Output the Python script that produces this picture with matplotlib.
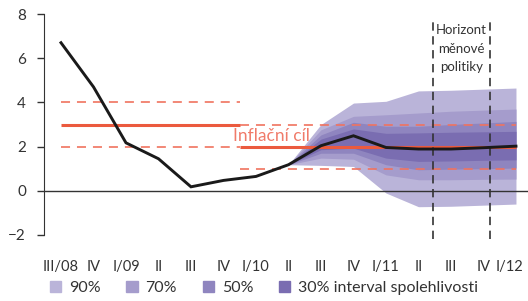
import matplotlib
matplotlib.use('Agg')
import matplotlib.pyplot as plt
import matplotlib.transforms as mtransforms
from matplotlib.patches import Patch

plt.rcParams['font.family'] = ['Lato', 'DejaVu Sans']
plt.rcParams['lines.scale_dashes'] = False

# quarters III/08 .. I/12
labels = ['III/08', 'IV', 'I/09', 'II', 'III', 'IV', 'I/10', 'II', 'III', 'IV',
          'I/11', 'II', 'III', 'IV', 'I/12']
inflation = [6.7, 4.7, 2.17, 1.45, 0.18, 0.47, 0.65, 1.18, 2.04, 2.49,
             1.96, 1.89, 1.89, 1.95, 2.02]

# fan from II/10 to I/12
fan_start = 7
lo90 = [1.18, 1.15, 1.10, -0.10, -0.72, -0.70, -0.65, -0.60]
lo70 = [1.18, 1.48, 1.43, 0.72, 0.50, 0.50, 0.52, 0.53]
lo50 = [1.18, 1.70, 1.70, 1.18, 0.95, 0.98, 1.00, 1.03]
lo30 = [1.18, 1.86, 1.93, 1.48, 1.33, 1.35, 1.38, 1.40]
hi30 = [1.18, 2.34, 2.80, 2.60, 2.62, 2.65, 2.67, 2.69]
hi50 = [1.18, 2.53, 3.10, 2.92, 2.92, 3.00, 3.07, 3.14]
hi70 = [1.18, 2.76, 3.37, 3.44, 3.52, 3.60, 3.65, 3.70]
hi90 = [1.18, 3.00, 3.97, 4.05, 4.52, 4.55, 4.60, 4.65]

# inflation target: (x from, x to, centre, band)
targets = [(0, 5.5, 3, 1), (5.5, 14, 2, 1)]
horizon = [11.45, 13.2]

c90, c70, c50, c30 = '#bab4d9', '#a59ccc', '#8f85bf', '#7a6db1'
red = '#eb5a3e'
dred = '#f0735f'
txt = '#333333'

fig = plt.figure(figsize=(5.28, 3.01), dpi=100)
ax = fig.add_axes([44 / 528, 1 - 235 / 301, 1 - 44 / 528, 221 / 301])

xs = list(range(len(labels)))
fx = xs[fan_start:]

ax.fill_between(fx, lo90, hi90, color=c90, lw=0, zorder=1)
ax.fill_between(fx, lo70, hi70, color=c70, lw=0, zorder=1)
ax.fill_between(fx, lo50, hi50, color=c50, lw=0, zorder=1)
ax.fill_between(fx, lo30, hi30, color=c30, lw=0, zorder=1)

for x0, x1, c, b in targets:
    ax.plot([x0, x1], [c, c], color=red, lw=2.2, zorder=3, solid_capstyle='butt')
    for v in (c - b, c + b):
        ax.plot([x0, x1], [v, v], color=dred, lw=1.2, dashes=(6.5, 5), zorder=3)

ax.text(5.3, 2.5, 'Inflační cíl', color='#f07b6a', fontsize=12.5, ha='left', va='center', zorder=4)

for h in horizon:
    ax.plot([h, h], [-2.2, 7.75], color='#333333', lw=1.2, dashes=(6, 4), zorder=4, clip_on=False)
ax.text(sum(horizon) / 2, 6.43, 'Horizont\nměnové\npolitiky', color=txt, fontsize=9.5,
        ha='center', va='center', linespacing=1.65, zorder=5)

ax.axhline(0, color='#333333', lw=1, zorder=2)
ax.plot(xs, inflation, color='#1a1a1a', lw=2.1, zorder=5, solid_joinstyle='miter')

ax.set_xlim(-0.523, 14.37)
ax.set_ylim(-2, 8)
ax.set_yticks(range(-2, 9, 2))
ax.set_xticks(xs)
ax.set_xticklabels(labels)
for s in ('top', 'right', 'bottom'):
    ax.spines[s].set_visible(False)
ax.spines['left'].set_color('#333333')
ax.tick_params(axis='y', length=5, width=1, color='#333333', labelsize=11, labelcolor=txt, pad=8)
ax.tick_params(axis='x', length=0, labelsize=10.5, labelcolor=txt, pad=18)
# keep the last label inside the figure
last = ax.get_xticklabels()[-1]
last.set_transform(last.get_transform() + mtransforms.ScaledTranslation(-6 / 100, 0, fig.dpi_scale_trans))

handles = [Patch(color=c90, label='90%'), Patch(color=c70, label='70%'),
           Patch(color=c50, label='50%'), Patch(color=c30, label='30% interval spolehlivosti')]
fig.legend(handles=handles, loc='center left', bbox_to_anchor=(50 / 528, 1 - 288 / 301),
           ncol=4, frameon=False, fontsize=11.5, handlelength=0.7, handleheight=0.7,
           handletextpad=0.5, columnspacing=1.6, borderpad=0, borderaxespad=0, labelcolor=txt)

fig.savefig('out.png', dpi=100)
